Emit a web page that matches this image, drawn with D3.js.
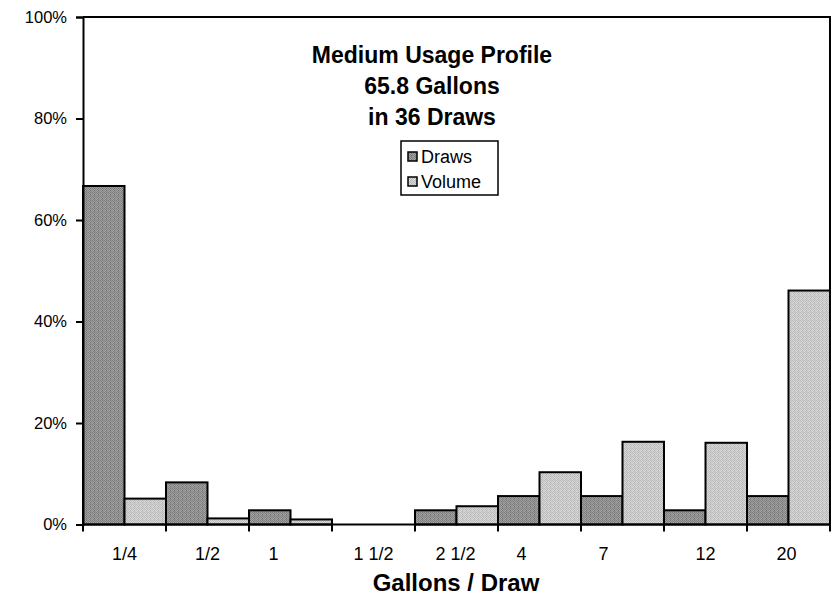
<!DOCTYPE html>
<html><head><meta charset="utf-8">
<script src="https://cdn.jsdelivr.net/npm/d3@7"></script>
<style>body{margin:0;background:#fff} text{font-family:"Liberation Sans",Arial,sans-serif;fill:#000}</style>
</head><body><svg id="c" width="835" height="600"></svg>
<script>
// ---- data ----
const categories = ["1/4", "1/2", "1", "1 1/2", "2 1/2", "4", "7", "12", "20"];
const seriesNames = ["Draws", "Volume"];
const draws  = [66.7, 8.3, 2.8, 0, 2.8, 5.6, 5.6, 2.8, 5.6];
const volume = [5.1, 1.2, 1.0, 0, 3.6, 10.3, 16.3, 16.1, 46.1];
const yTicks = [0, 20, 40, 60, 80, 100];
const titleLines = ["Medium Usage Profile", "65.8 Gallons", "in 36 Draws"];
const xTitle = "Gallons / Draw";

// ---- layout / style ----
const labelNudge = [0, 0, -17, 0, -1, -18, -19, 0, -2];
const plot = {left: 83, right: 830, top: 17, bottom: 524.5};
const svg = d3.select("#c");

const defs = svg.append("defs");
function makePattern(id, shades) {
  const p = defs.append("pattern").attr("id", id).attr("patternUnits", "userSpaceOnUse")
    .attr("width", 4).attr("height", 4);
  shades.forEach((s, i) => {
    p.append("rect").attr("x", i % 4).attr("y", Math.floor(i / 4)).attr("width", 1).attr("height", 1)
      .attr("fill", d3.rgb(s, s, s));
  });
}
makePattern("pDark",  [0x80,0xa2,0x76,0x9a, 0x9e,0x7a,0xa6,0x84, 0x88,0xaa,0x70,0x9c, 0xa2,0x7e,0x96,0x8c]);
makePattern("pLight", [0xbc,0xd8,0xb4,0xd0, 0xd4,0xb8,0xdc,0xc0, 0xc4,0xe0,0xb0,0xd2, 0xd8,0xbc,0xcc,0xc6]);
const fills = ["url(#pDark)", "url(#pLight)"];

const x0 = d3.scaleBand().domain(categories).range([plot.left, plot.right]).paddingInner(0).paddingOuter(0);
const x1 = d3.scaleBand().domain(seriesNames).range([0, x0.bandwidth()]).padding(0);
const y = d3.scaleLinear().domain([0, 100]).range([plot.bottom, plot.top]);

const rows = categories.map((c, i) => ({cat: c, vals: [draws[i], volume[i]]}));

// plot frame (top & right)
svg.append("path")
  .attr("d", `M${plot.left},${y(100)}H${plot.right}V${plot.bottom}`)
  .attr("fill", "none").attr("stroke", "#000").attr("stroke-width", 2);

// bars
const g = svg.append("g");
rows.forEach((r) => {
  r.vals.forEach((v, j) => {
    if (v <= 0) return;
    g.append("rect")
      .attr("x", x0(r.cat) + x1(seriesNames[j]))
      .attr("y", y(v))
      .attr("width", x1.bandwidth())
      .attr("height", y(0) - y(v))
      .attr("fill", fills[j])
      .attr("stroke", "#000").attr("stroke-width", 2);
  });
});

// y axis
const yAxis = d3.axisLeft(y).tickValues(yTicks).tickFormat(d => d + "%").tickSize(7).tickPadding(9);
const ya = svg.append("g").attr("transform", `translate(${plot.left},0)`).call(yAxis);
ya.select(".domain").attr("stroke", "#000").attr("stroke-width", 2);
ya.selectAll(".tick line").attr("stroke", "#000").attr("stroke-width", 2);
ya.selectAll("text").style("font-size", "16.5px").attr("fill", "#000");

// x axis: ticks at category boundaries
const bounds = categories.map(c => x0(c)).concat([plot.right]);
const xa = svg.append("g");
xa.append("line").attr("x1", plot.left).attr("x2", plot.right).attr("y1", plot.bottom).attr("y2", plot.bottom)
  .attr("stroke", "#000").attr("stroke-width", 2);
xa.selectAll("line.t").data(bounds).enter().append("line").attr("class", "t")
  .attr("x1", d => d).attr("x2", d => d).attr("y1", plot.bottom).attr("y2", plot.bottom + 7)
  .attr("stroke", "#000").attr("stroke-width", 2);
xa.selectAll("text").data(categories).enter().append("text")
  .attr("x", (d, i) => x0(d) + x0.bandwidth() / 2 + labelNudge[i])
  .attr("y", 560).attr("text-anchor", "middle").style("font-size", "18px").text(d => d);

// x title
svg.append("text").attr("x", 456).attr("y", 591).attr("text-anchor", "middle")
  .style("font-size", "24px").style("font-weight", "bold").text(xTitle);

// chart title
svg.append("g").selectAll("text").data(titleLines).enter().append("text")
  .attr("x", 432).attr("y", (d, i) => 63 + i * 31).attr("text-anchor", "middle")
  .style("font-size", "23px").style("font-weight", "bold").text(d => d);

// legend
const lg = svg.append("g").attr("transform", "translate(401,141)");
lg.append("rect").attr("width", 97).attr("height", 54).attr("fill", "#fff").attr("stroke", "#000").attr("stroke-width", 1.5);
seriesNames.forEach((s, j) => {
  lg.append("rect").attr("x", 7).attr("y", 11 + j * 25).attr("width", 9).attr("height", 9)
    .attr("fill", fills[j]).attr("stroke", "#000").attr("stroke-width", 1.5);
  lg.append("text").attr("x", 20).attr("y", 21.5 + j * 25).style("font-size", "18px").text(s);
});
</script></body></html>
